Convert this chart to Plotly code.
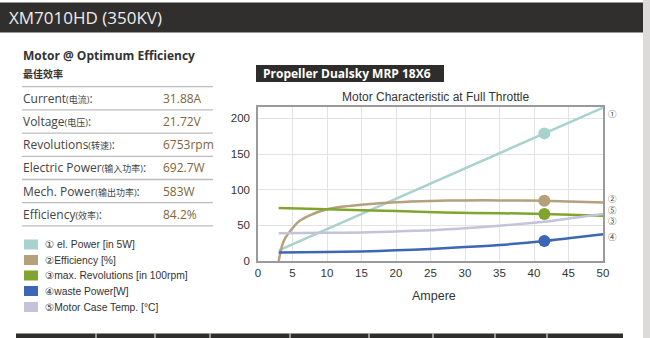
import plotly.graph_objects as go

# ---------------- data ----------------
power_x = [3, 50]
power_y = [15, 215]          # el. Power [in 5W]

eff_x = [3, 3.5, 4, 5, 6, 7.5, 10, 12.5, 15, 20, 25, 30, 35, 41.5, 45, 50]
eff_y = [0, 22, 33, 46, 56, 64, 72.5, 76.5, 79, 82.5, 84.3, 85, 85, 84.5, 83.5, 82]

rev_x = [3, 10, 20, 27, 35, 41.5, 50]
rev_y = [74.5, 72.5, 70, 68, 67, 66, 63.5]

waste_x = [3, 10, 15, 20, 25, 30, 35, 41.5, 45, 50]
waste_y = [12, 12.5, 13.5, 15, 17, 19.5, 22.5, 28, 32, 37.5]

temp_x = [3, 10, 15, 20, 25, 30, 35, 41.5, 45, 50]
temp_y = [39, 39.5, 40, 41.5, 43, 46, 49.5, 55, 59.5, 66]

marker_x = 41.5
marker_vals = {"power": 179, "eff": 84.5, "rev": 66, "waste": 28}

x_ticks = [0, 5, 10, 15, 20, 25, 30, 35, 40, 45, 50]
y_ticks = [0, 50, 100, 150, 200]

table_labels = ["Current", "Voltage", "Revolutions", "Electric Power", "Mech. Power", "Efficiency"]
table_cn = ["(电流)", "(电压)", "(转速)", "(输入功率)", "(输出功率)", "(效率)"]
table_values = ["31.88A", "21.72V", "6753rpm", "692.7W", "583W", "84.2%"]

legend_labels = ["① el. Power [in 5W]", "②Efficiency [%]", "③max. Revolutions [in 100rpm]",
                 "④waste Power[W]", "⑤Motor Case Temp. [°C]"]
end_labels = ["①", "②", "⑤", "③", "④"]
end_label_y = [113, 197.5, 208.5, 219.5, 236]   # pixel rows of the end labels

# ---------------- styles ----------------
C_POWER = "#a7d2cd"
C_EFF = "#b5a07c"
C_REV = "#80a52e"
C_WASTE = "#3c66b6"
C_TEMP = "#c3c3da"
legend_colors = [C_POWER, C_EFF, C_REV, C_WASTE, C_TEMP]

W, H = 650, 338
L, R, T, B = 258, 603, 107, 261


def px(x):
    return (x - L) / (R - L)


def py(y):
    return (B - y) / (B - T)


fig = go.Figure()

series = [
    (power_x, power_y, C_POWER, "power"),
    (eff_x, eff_y, C_EFF, "eff"),
    (rev_x, rev_y, C_REV, "rev"),
    (temp_x, temp_y, C_TEMP, None),
    (waste_x, waste_y, C_WASTE, "waste"),
]
for xs, ys, col, key in series:
    fig.add_trace(go.Scatter(x=xs, y=ys, mode="lines",
                             line=dict(color=col, width=2.5, shape="spline", smoothing=0.8),
                             hoverinfo="skip", showlegend=False, cliponaxis=True))
for xs, ys, col, key in series:
    if key:
        fig.add_trace(go.Scatter(x=[marker_x], y=[marker_vals[key]], mode="markers",
                                 marker=dict(color=col, size=12), hoverinfo="skip",
                                 showlegend=False))

shapes = []
annotations = []

# header bar
shapes.append(dict(type="rect", xref="paper", yref="paper", x0=px(0), x1=px(643),
                   y0=py(32.5), y1=py(2.5), fillcolor="#302f2d", line=dict(width=0), layer="below"))
annotations.append(dict(xref="paper", yref="paper", x=px(7), y=py(17.5), xanchor="left", yanchor="middle",
                        text="XM7010HD (350KV)", showarrow=False,
                        font=dict(family="Open Sans", size=17, color="#ececec")))
# right gray strip
shapes.append(dict(type="rect", xref="paper", yref="paper", x0=px(643), x1=px(651),
                   y0=py(339), y1=py(-1), fillcolor="#dddbd9", line=dict(width=0), layer="below"))
# bottom bar
shapes.append(dict(type="rect", xref="paper", yref="paper", x0=px(16), x1=px(623),
                   y0=py(339), y1=py(333.5), fillcolor="#2f2e2c", line=dict(width=0), layer="below"))
for sx in [96, 155, 210, 290, 369, 433, 495, 547]:
    shapes.append(dict(type="line", xref="paper", yref="paper", x0=px(sx), x1=px(sx),
                       y0=py(339), y1=py(333.5), line=dict(color="#ffffff", width=1)))

# propeller box
shapes.append(dict(type="rect", xref="paper", yref="paper", x0=px(256), x1=px(444),
                   y0=py(82), y1=py(65), fillcolor="#2e2d2b", line=dict(width=0), layer="below"))
annotations.append(dict(xref="paper", yref="paper", x=px(261), y=py(73.5), xanchor="left", yanchor="middle",
                        text="<b>Propeller Dualsky MRP 18X6</b>", showarrow=False,
                        font=dict(family="Open Sans", size=12, color="#ffffff")))

# chart title and axis title
annotations.append(dict(xref="paper", yref="paper", x=px(435), y=py(97), xanchor="center", yanchor="middle",
                        text="Motor Characteristic at Full Throttle", showarrow=False,
                        font=dict(family="Liberation Sans", size=12, color="#333333")))
annotations.append(dict(xref="paper", yref="paper", x=px(434), y=py(296), xanchor="center", yanchor="middle",
                        text="Ampere", showarrow=False,
                        font=dict(family="Liberation Sans", size=12.5, color="#333333")))

# end labels
for lab, yy in zip(end_labels, end_label_y):
    annotations.append(dict(xref="paper", yref="paper", x=px(606), y=py(yy), xanchor="left", yanchor="middle",
                            text=lab, showarrow=False,
                            font=dict(family="Noto Sans CJK SC", size=8.5, color="#3a3a3a")))

# left panel: table
annotations.append(dict(xref="paper", yref="paper", x=px(21), y=py(55.5), xanchor="left", yanchor="middle",
                        text="<b>Motor @ Optimum Efficiency</b>", showarrow=False,
                        font=dict(family="Open Sans", size=12, color="#333333")))
annotations.append(dict(xref="paper", yref="paper", x=px(21), y=py(73), xanchor="left", yanchor="middle",
                        text="<b>最佳效率</b>", showarrow=False,
                        font=dict(family="Noto Sans CJK SC", size=10, color="#333333")))
row_h = 23.2
line_y0 = 86.7
for i in range(7):
    yy = line_y0 + i * row_h
    shapes.append(dict(type="line", xref="paper", yref="paper", x0=px(22), x1=px(213),
                       y0=py(yy), y1=py(yy), line=dict(color="#bdbdbd", width=1.3)))
for i, (lab, cn, val) in enumerate(zip(table_labels, table_cn, table_values)):
    yy = line_y0 + (i + 0.5) * row_h
    annotations.append(dict(xref="paper", yref="paper", x=px(21), y=py(yy), xanchor="left", yanchor="middle",
                            text=f"{lab}<span style='font-size:9px'>{cn}</span>:", showarrow=False,
                            font=dict(family="Open Sans, Noto Sans CJK SC", size=12, color="#444444")))
    annotations.append(dict(xref="paper", yref="paper", x=px(161), y=py(yy), xanchor="left", yanchor="middle",
                            text=val, showarrow=False,
                            font=dict(family="Open Sans", size=12, color="#7f6538")))

# left panel: legend
leg_y = [244.5, 260, 275.5, 291, 307]
for lab, col, yy in zip(legend_labels, legend_colors, leg_y):
    shapes.append(dict(type="rect", xref="paper", yref="paper", x0=px(24), x1=px(38),
                       y0=py(yy + 5), y1=py(yy - 5), fillcolor=col, line=dict(width=0)))
    annotations.append(dict(xref="paper", yref="paper", x=px(43), y=py(yy), xanchor="left", yanchor="middle",
                            text=lab, showarrow=False,
                            font=dict(family="Liberation Sans, DejaVu Sans", size=10.3, color="#333333")))

fig.update_layout(
    width=W, height=H,
    margin=dict(l=L, r=W - R, t=T, b=H - B, pad=0),
    paper_bgcolor="#ffffff", plot_bgcolor="#ffffff",
    shapes=shapes, annotations=annotations,
    showlegend=False,
    font=dict(family="Liberation Sans", size=11, color="#333333"),
)
fig.update_xaxes(range=[0, 50], tickvals=x_ticks, ticktext=[str(v) for v in x_ticks],
                 showgrid=True, gridcolor="#e3e3e3", gridwidth=1,
                 showline=True, linecolor="#9a9a9a", linewidth=1.5, mirror=True,
                 zeroline=False, ticks="", ticklen=0, tickfont=dict(size=11.5, color="#333333"))
fig.update_yaxes(range=[0, 216], tickvals=y_ticks, ticktext=[str(v) for v in y_ticks],
                 showgrid=True, gridcolor="#e3e3e3", gridwidth=1,
                 showline=True, linecolor="#9a9a9a", linewidth=1.5, mirror=True,
                 zeroline=False, ticks="outside", ticklen=4, tickcolor="rgba(0,0,0,0)",
                 tickfont=dict(size=11.5, color="#333333"))

fig.write_html("out.html")
